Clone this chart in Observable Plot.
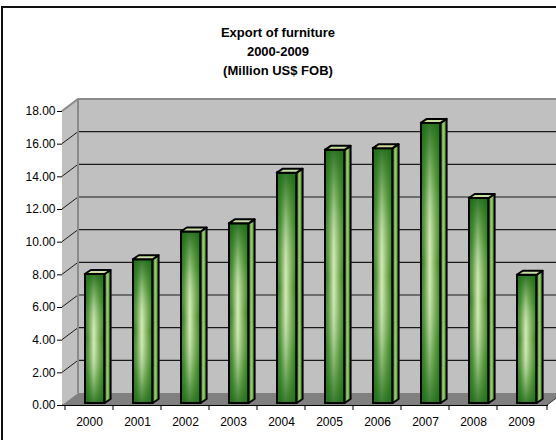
<!DOCTYPE html>
<html><head><meta charset="utf-8">
<script src="https://cdn.jsdelivr.net/npm/d3@7"></script>
<script src="https://cdn.jsdelivr.net/npm/@observablehq/plot@0.6"></script>
<style>
html,body{margin:0;padding:0;background:#fff;}
#chart{position:relative;width:556px;height:440px;overflow:hidden;font-family:"Liberation Sans",Arial,sans-serif;}
#frame{position:absolute;left:1px;top:6px;width:640px;height:520px;border:2px solid #111;box-sizing:border-box;pointer-events:none}
#title{height:90px;box-sizing:border-box;padding-top:23px;text-align:center;font-weight:bold;font-size:13px;line-height:19px;color:#000;}
#plot svg{display:block}
</style></head><body>
<div id="chart">
  <div id="title"><div>Export of furniture</div><div>2000-2009</div><div>(Million US$ FOB)</div></div>
  <div id="plot"></div>
  <div id="frame"></div>
</div>
<script>
// ---- data ----
const years  = ["2000","2001","2002","2003","2004","2005","2006","2007","2008","2009"];
const values = [7.9, 8.8, 10.5, 11.0, 14.1, 15.5, 15.6, 17.15, 12.55, 7.85];
const yTicks = [0, 2, 4, 6, 8, 10, 12, 14, 16, 18];

const data = years.map((year, i) => ({year, value: values[i]}));

// depth of the 3-D box (pixels) and of each bar
const DX = 16, DY = -12;
const BDX = 6, BDY = -4;
const BAR_DY = -2;

function defs() {
  const d = d3.create("svg:defs");
  const h = d.append("linearGradient").attr("id", "frontGrad").attr("x1", 0).attr("x2", 1).attr("y1", 0).attr("y2", 0);
  [[0, "#23741c"], [0.18, "#5a9a3a"], [0.45, "#d4e8ba"], [0.72, "#7cb052"], [1, "#267620"]]
    .forEach(([o, c]) => h.append("stop").attr("offset", o).attr("stop-color", c));
  const v = d.append("linearGradient").attr("id", "shadeGrad").attr("x1", 0).attr("x2", 0).attr("y1", 0).attr("y2", 1);
  [[0, "#1c6a18", 0.9], [0.22, "#2f7f22", 0.35], [0.5, "#ffffff", 0], [0.78, "#2f7f22", 0.3], [1, "#1c6a18", 0.85]]
    .forEach(([o, c, a]) => v.append("stop").attr("offset", o).attr("stop-color", c).attr("stop-opacity", a));
  const s = d.append("linearGradient").attr("id", "sideGrad").attr("x1", 0).attr("x2", 1).attr("y1", 0).attr("y2", 0);
  [[0, "#4a9232"], [0.5, "#98c86e"], [1, "#3a8628"]]
    .forEach(([o, c]) => s.append("stop").attr("offset", o).attr("stop-color", c));
  return d.node();
}

function scene(index, scales, vals, dims) {
  const {x, y} = scales;
  const [r0, r1] = x.range();
  const xa = Math.min(r0, r1), xb = Math.max(r0, r1);
  const y0 = y(yTicks[0]), yT = y(yTicks[yTicks.length - 1]);
  const W = dims.width;
  const g = d3.create("svg:g");
  // side wall
  g.append("path").attr("fill", "#c0c0c0")
    .attr("d", `M${xa},${y0}L${xa},${yT}L${xa + DX},${yT + DY}L${xa + DX},${y0 + DY}Z`);
  // back wall
  g.append("rect").attr("fill", "#c0c0c0")
    .attr("x", xa + DX).attr("y", yT + DY).attr("width", W + 40).attr("height", y0 - yT);
  // floor
  g.append("path").attr("fill", "#808080")
    .attr("d", `M${xa},${y0}L${xb},${y0}L${xb + DX},${y0 + DY}L${xa + DX},${y0 + DY}Z`);
  g.append("line").attr("x1", xb).attr("y1", y0).attr("x2", xb + DX).attr("y2", y0 + DY)
    .attr("stroke", "#333").attr("stroke-width", 1);
  // grid lines on back wall and side wall
  yTicks.slice(1, -1).forEach(t => {
    const yy = y(t);
    g.append("line").attr("x1", xa + DX).attr("x2", W + 40).attr("y1", yy + DY).attr("y2", yy + DY)
      .attr("stroke", "#1a1a1a").attr("stroke-width", 1.2);
    g.append("line").attr("x1", xa).attr("x2", xa + DX).attr("y1", yy).attr("y2", yy + DY)
      .attr("stroke", "#1a1a1a").attr("stroke-width", 1);
  });
  // grey edges of the walls
  g.append("path").attr("fill", "none").attr("stroke", "#8a8a8a").attr("stroke-width", 2)
    .attr("d", `M${xa},${yT}L${xa + DX},${yT + DY}L${W + 40},${yT + DY}M${xa + DX},${yT + DY}L${xa + DX},${y0 + DY}`);
  return g.node();
}

function barSides(index, scales, vals, dims) {
  const {x, y} = scales;
  const bw = x.bandwidth();
  const g = d3.create("svg:g").attr("stroke", "#000").attr("stroke-width", 2).attr("stroke-linejoin", "round");
  data.forEach(d => {
    const xl = x(d.year) + bw * 20 / 48.5;
    const xr = x(d.year) + bw * 40 / 48.5;
    const yt = y(d.value) + BAR_DY, yb = y(0) + BAR_DY;
    g.append("path").attr("fill", "url(#sideGrad)")
      .attr("d", `M${xr},${yt}L${xr + BDX},${yt + BDY}L${xr + BDX},${yb + BDY}L${xr},${yb}Z`);
    g.append("path").attr("fill", "#c8e1a2")
      .attr("d", `M${xl},${yt}L${xl + BDX},${yt + BDY}L${xr + BDX},${yt + BDY}L${xr},${yt}Z`);
  });
  return g.node();
}

function xTicksMarks(index, scales, vals, dims) {
  const {x, y} = scales;
  const [r0, r1] = x.range();
  const y0 = y(0);
  const g = d3.create("svg:g").attr("stroke", "#000").attr("stroke-width", 1);
  years.forEach(yr => g.append("line").attr("x1", x(yr)).attr("x2", x(yr)).attr("y1", y0).attr("y2", y0 + 5));
  g.append("line").attr("x1", r1).attr("x2", r1).attr("y1", y0).attr("y2", y0 + 5);
  return g.node();
}

const barOpts = {x: "year", y: "value", insetLeft: 20, insetRight: 8.5, dy: BAR_DY};

const chart = Plot.plot({
  width: 556,
  height: 350,
  marginLeft: 62,
  marginRight: 9,
  marginTop: 21,
  marginBottom: 35,
  style: {fontFamily: "'Liberation Sans', Arial, sans-serif", fontSize: "12px", color: "#000", background: "transparent", overflow: "visible"},
  x: {domain: years, padding: 0, tickSize: 0, tickPadding: 12, line: true, label: null},
  y: {domain: [0, 18], ticks: yTicks, tickFormat: d => d.toFixed(2), tickSize: 5, tickPadding: 2, line: true, label: null},
  marks: [
    defs,
    scene,
    Plot.barY(data, {...barOpts, fill: "url(#frontGrad)"}),
    Plot.barY(data, {...barOpts, fill: "url(#shadeGrad)"}),
    Plot.barY(data, {...barOpts, fill: "none", stroke: "#000", strokeWidth: 2}),
    barSides,
    xTicksMarks
  ]
});
document.getElementById("plot").appendChild(chart);
</script>
</body></html>
